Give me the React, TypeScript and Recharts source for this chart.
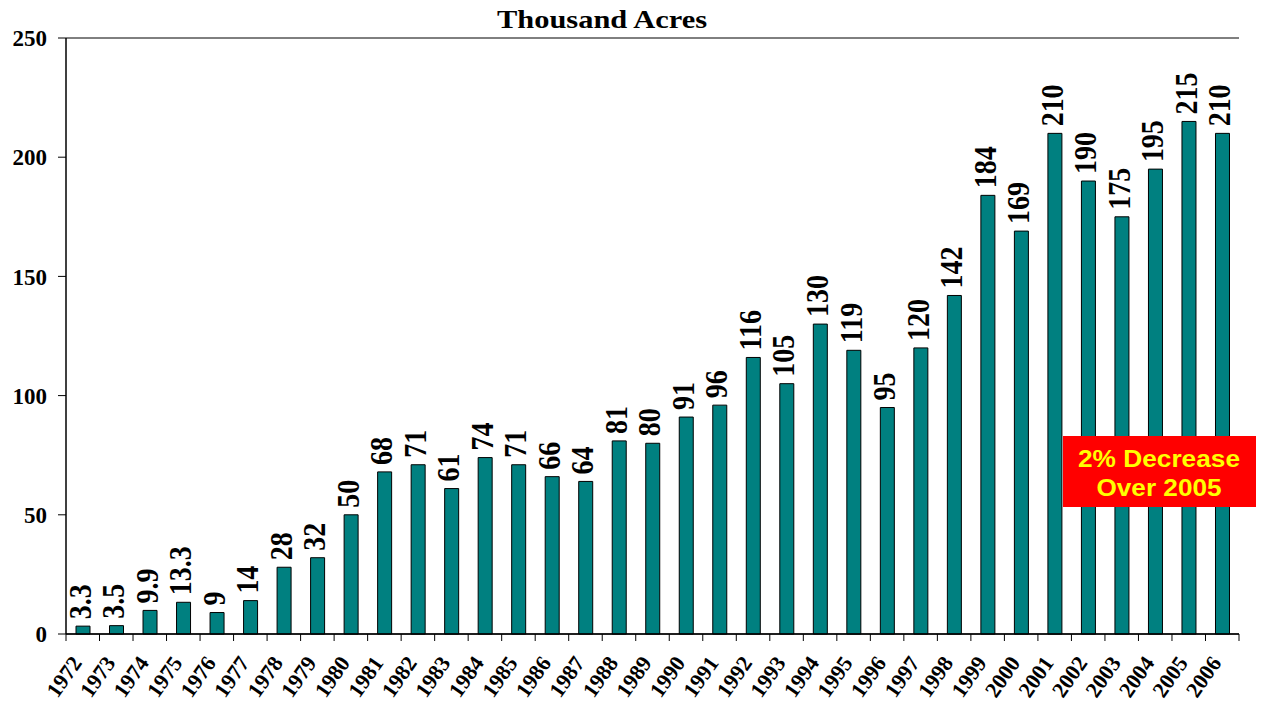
import React from 'react';
import { BarChart, Bar, XAxis, YAxis, CartesianGrid, LabelList } from 'recharts';

const years = [
  '1972', '1973', '1974', '1975', '1976', '1977', '1978', '1979', '1980', '1981', '1982', '1983',
  '1984', '1985', '1986', '1987', '1988', '1989', '1990', '1991', '1992', '1993', '1994', '1995',
  '1996', '1997', '1998', '1999', '2000', '2001', '2002', '2003', '2004', '2005', '2006',
];

const acres = [
  3.3, 3.5, 9.9, 13.3, 9, 14, 28, 32, 50, 68, 71, 61,
  74, 71, 66, 64, 81, 80, 91, 96, 116, 105, 130, 119,
  95, 120, 142, 184, 169, 210, 190, 175, 195, 215, 210,
];

const yTicks = [0, 50, 100, 150, 200, 250];

const chartTitle = 'Thousand Acres';
const noteLines = ['2% Decrease', 'Over 2005'];

const data = years.map((year, i) => ({ year, acres: acres[i] }));

const W = 1261;
const H = 705;
const margin = { top: 38, right: 22, bottom: 0, left: 0 };
const yAxisWidth = 66;
const step = (W - margin.left - margin.right - yAxisWidth) / years.length;

const serif = '"Liberation Serif", "Times New Roman", serif';
const sans = '"Liberation Sans", Arial, sans-serif';

// tick marks sit on the category boundaries, labels on the centres
const YearTick = (props: any) => {
  const { x, y, payload, index } = props;
  const left = x - step / 2;
  return (
    <g>
      <line x1={left} x2={left} y1={y} y2={y + 7} stroke="#000" strokeWidth={1} />
      {index === years.length - 1 && (
        <line x1={x + step / 2} x2={x + step / 2} y1={y} y2={y + 7} stroke="#000" strokeWidth={1} />
      )}
      <text
        transform={`translate(${x},${y + 29}) rotate(-55)`}
        textAnchor="end"
        fontFamily={serif}
        fontWeight="bold"
        fontSize={22}
        fill="#000"
      >
        {payload.value}
      </text>
    </g>
  );
};

const ValueLabel = (props: any) => {
  const { x, y, width, value } = props;
  const cx = Number(x) + Number(width) / 2 - 3;
  const cy = Number(y) - 7;
  return (
    <text
      transform={`translate(${cx},${cy}) scale(1.15,1) rotate(-90)`}
      textAnchor="start"
      dominantBaseline="central"
      fontFamily={serif}
      fontWeight="bold"
      fontSize={28}
      fill="#000"
    >
      {value}
    </text>
  );
};

export default function App() {
  return (
    <div style={{ position: 'absolute', left: 0, top: 0, width: W, height: H, background: '#fff' }}>
      <BarChart width={W} height={H} data={data} margin={margin}>
        <CartesianGrid horizontal vertical={false} stroke="#000" strokeWidth={1} />
        <XAxis
          dataKey="year"
          height={71}
          interval={0}
          tickLine={false}
          tickSize={0}
          tickMargin={0}
          axisLine={{ stroke: '#000', strokeWidth: 1.5 }}
          tick={<YearTick />}
        />
        <YAxis
          yAxisId="left"
          width={yAxisWidth}
          domain={[0, 250]}
          ticks={yTicks}
          tickSize={8}
          tickMargin={11}
          axisLine={{ stroke: '#000', strokeWidth: 1.5 }}
          tickLine={{ stroke: '#000' }}
          tick={{ fontFamily: serif, fontWeight: 'bold', fontSize: 23, fill: '#000' }}
        />
        <YAxis
          yAxisId="right"
          orientation="right"
          width={0}
          domain={[0, 250]}
          tick={false}
          tickLine={false}
          axisLine={{ stroke: '#000', strokeWidth: 1 }}
        />
        <Bar
          yAxisId="left"
          dataKey="acres"
          barSize={14}
          fill="#008080"
          stroke="#000"
          strokeWidth={1}
          isAnimationActive={false}
        >
          <LabelList dataKey="acres" content={<ValueLabel />} />
        </Bar>
      </BarChart>
      <svg width={W} height={H} style={{ position: 'absolute', left: 0, top: 0, pointerEvents: 'none' }}>
        <text
          x={602}
          y={28}
          textAnchor="middle"
          fontFamily={serif}
          fontWeight="bold"
          fontSize={25}
          textLength={210}
          lengthAdjust="spacingAndGlyphs"
          fill="#000"
        >
          {chartTitle}
        </text>
        <rect x={1063} y={436} width={193} height={71} fill="#ff0000" />
        {noteLines.map((line, i) => (
          <text
            key={line}
            x={1159}
            y={467 + i * 29}
            textAnchor="middle"
            fontFamily={sans}
            fontWeight="bold"
            fontSize={24}
            textLength={i === 0 ? 162 : 125}
            lengthAdjust="spacingAndGlyphs"
            fill="#ffff00"
          >
            {line}
          </text>
        ))}
      </svg>
    </div>
  );
}
